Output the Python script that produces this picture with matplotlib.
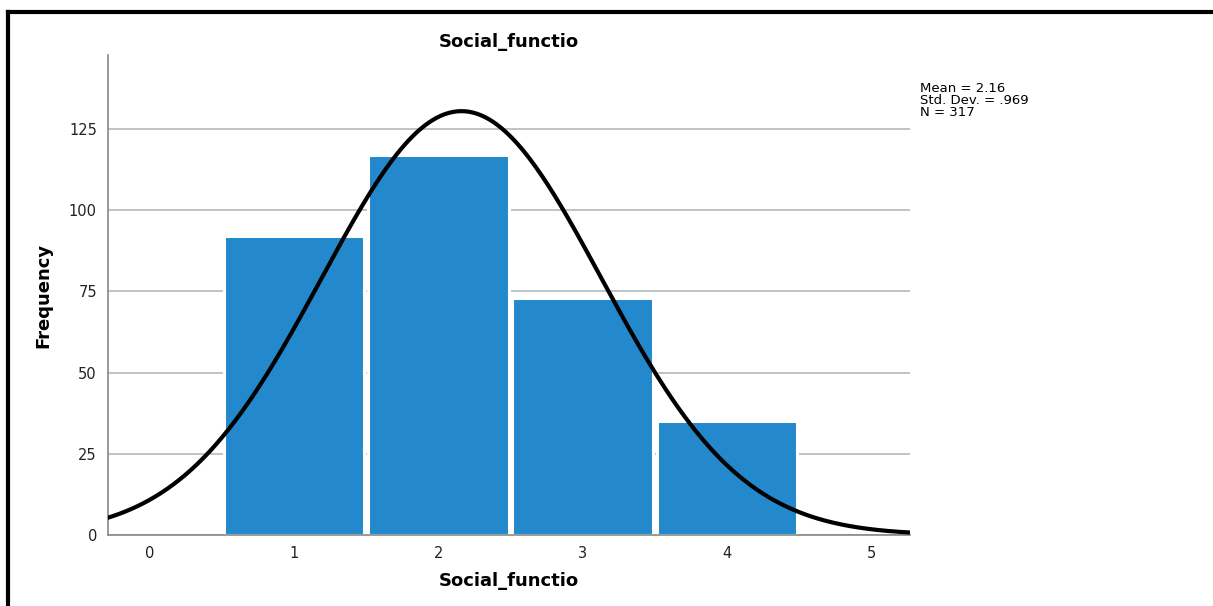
import numpy as np
import matplotlib.pyplot as plt
from matplotlib.lines import Line2D

categories = [1, 2, 3, 4]
frequencies = [92, 117, 73, 35]
mean_val = 2.16
std_val = 0.969
n_val = 317
xticks = [0, 1, 2, 3, 4, 5]
yticks = [0, 25, 50, 75, 100, 125]

fig = plt.figure(figsize=(12.13, 6.06), dpi=100)
ax = fig.add_axes([108/1213, 1-535/606, (910-108)/1213, (535-55)/606])

ax.set_axisbelow(True)
ax.yaxis.grid(True, color='#b4b8bc', linewidth=1.2)
ax.bar(categories, frequencies, width=0.975, color='#2389cc', edgecolor='white', linewidth=2.2, zorder=2)

xs = np.linspace(-0.3, 5.3, 400)
ys = n_val * 1.0 / (std_val * np.sqrt(2*np.pi)) * np.exp(-0.5*((xs-mean_val)/std_val)**2)
ax.plot(xs, ys, color='black', linewidth=3, zorder=3)

ax.set_xlim(-0.291, 5.27)
ax.set_ylim(0, 147.8)
ax.set_xticks(xticks)
ax.set_yticks(yticks)
ax.tick_params(length=0, labelsize=10.5, pad=8)
for lbl in ax.get_xticklabels() + ax.get_yticklabels():
    lbl.set_color('#222222')
for s in ['top', 'right']:
    ax.spines[s].set_visible(False)
for s in ['left', 'bottom']:
    ax.spines[s].set_color('#888888')
    ax.spines[s].set_linewidth(1.2)

ax.set_title('Social_functio', fontsize=13, fontweight='bold', pad=6)
ax.set_xlabel('Social_functio', fontsize=13, fontweight='bold', labelpad=8)
ax.set_ylabel('Frequency', fontsize=13, fontweight='bold', labelpad=12)

fig.text(920/1213, 1-82/606, 'Mean = 2.16\nStd. Dev. = .969\nN = 317', fontsize=9.5,
         va='top', ha='left', linespacing=0.9)

fig.add_artist(Line2D([8/1213, 8/1213], [0, 1-12/606], transform=fig.transFigure, color='black', linewidth=3))
fig.add_artist(Line2D([8/1213, 1.0], [1-12/606, 1-12/606], transform=fig.transFigure, color='black', linewidth=3))

fig.savefig('out.png', dpi=100)
